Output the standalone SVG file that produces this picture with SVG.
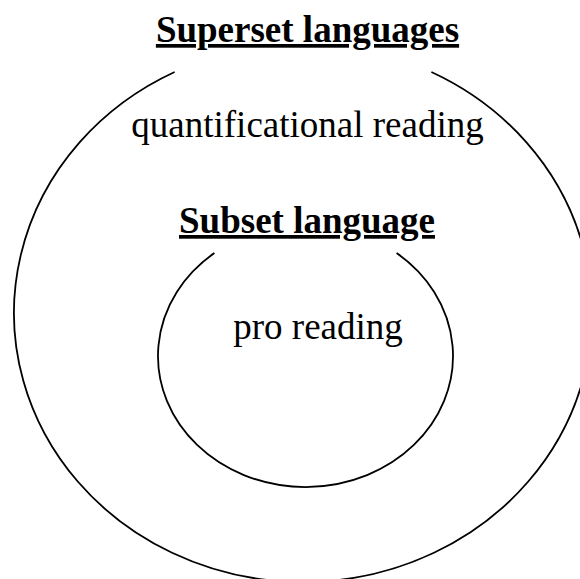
<svg xmlns="http://www.w3.org/2000/svg" width="580" height="579" viewBox="0 0 580 579">
  <style>
    .ring { fill: none; stroke: #000; stroke-width: 1.8; }
    .t { font-family: "Liberation Serif", "Times New Roman", serif; font-size: 37px; fill: #000; text-anchor: middle; }
    .h { font-weight: bold; text-decoration: underline; }
  </style>
  <rect width="580" height="579" fill="#fff"/>
  <g id="superset">
    <path class="ring" d="M 174.6 72 A 289 269 0 1 0 431.4 72"/>
    <text class="t h" x="307.5" y="42">Superset languages</text>
    <text class="t" x="307.5" y="137">quantificational reading</text>
  </g>
  <g id="subset">
    <path class="ring" d="M 214.4 253 A 147.5 131 0 1 0 396.6 253"/>
    <text class="t h" x="307" y="233">Subset language</text>
    <text class="t" x="318" y="339">pro reading</text>
  </g>
  <g id="connectors"/>
</svg>
